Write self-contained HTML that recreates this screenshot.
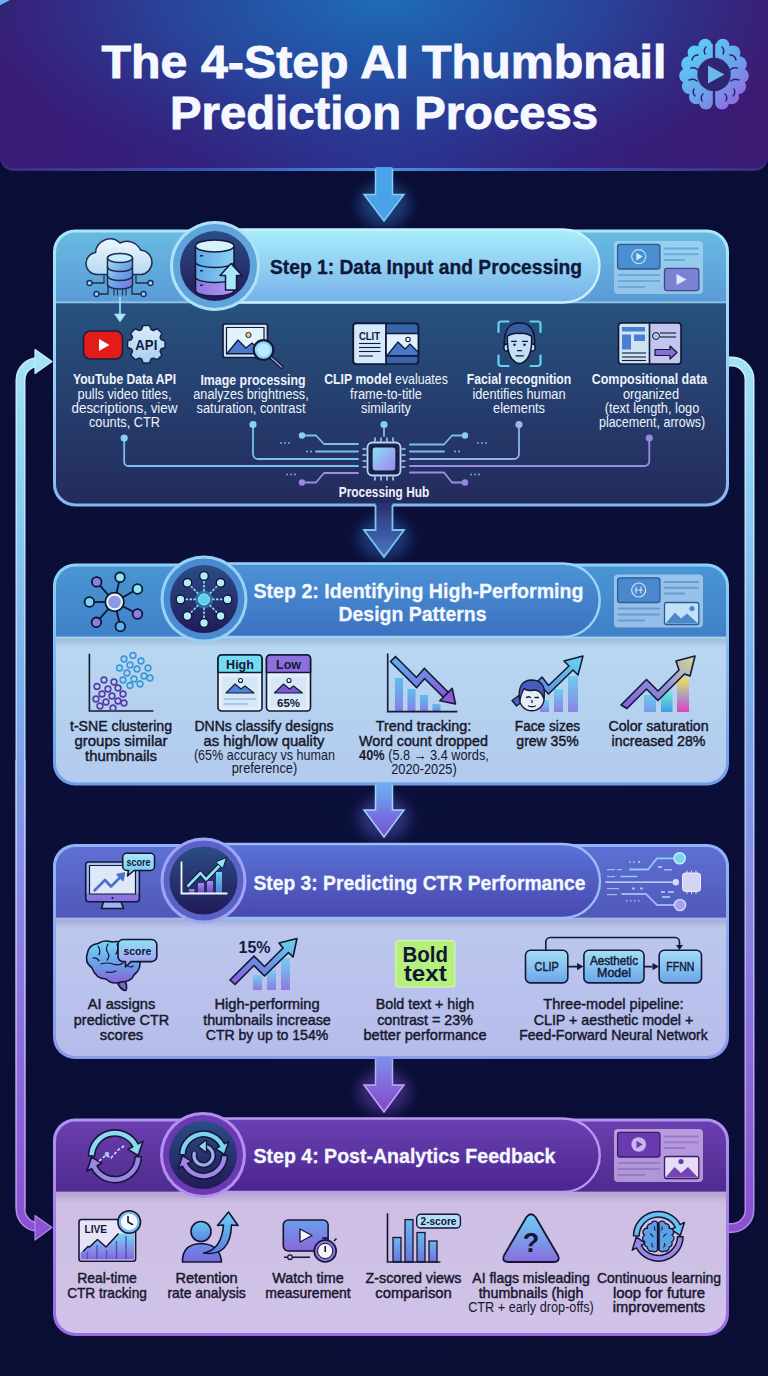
<!DOCTYPE html>
<html><head><meta charset="utf-8">
<style>
html,body{margin:0;padding:0;background:#0b0d2b;width:768px;height:1376px;overflow:hidden}
svg{display:block;position:absolute;left:0;top:0}
text{font-family:"Liberation Sans",sans-serif}
.b{font-weight:bold}
.m{font-weight:normal;stroke-width:0.45px}
.d.m{stroke:#16182c}
.w.m{stroke:#eef3fb}
.w{fill:#eef3fb}
.d{fill:#16182c}
</style></head><body>
<svg width="768" height="1376" viewBox="0 0 768 1376">
<defs>
  <radialGradient id="bgG" cx="384" cy="700" r="700" gradientUnits="userSpaceOnUse">
    <stop offset="0" stop-color="#0b103c"/><stop offset="1" stop-color="#0a0d34"/>
  </radialGradient>
  <linearGradient id="hdrG" x1="0" y1="0" x2="768" y2="0" gradientUnits="userSpaceOnUse">
    <stop offset="0" stop-color="#3a1b76"/><stop offset="0.25" stop-color="#33217e"/><stop offset="0.5" stop-color="#2a3490"/><stop offset="0.75" stop-color="#33217e"/><stop offset="1" stop-color="#3c1a72"/>
  </linearGradient>
  <radialGradient id="hdrR" cx="384" cy="0" r="430" gradientTransform="translate(384 0) scale(1 0.42) translate(-384 0)" gradientUnits="userSpaceOnUse">
    <stop offset="0" stop-color="#1e6cb6" stop-opacity="1"/><stop offset="0.5" stop-color="#2258a8" stop-opacity="0.65"/><stop offset="1" stop-color="#2a3a94" stop-opacity="0"/>
  </radialGradient>
  <linearGradient id="hdrB" x1="0" y1="0" x2="768" y2="0" gradientUnits="userSpaceOnUse">
    <stop offset="0" stop-color="#3a2a80"/><stop offset="0.3" stop-color="#3a5ab8"/><stop offset="0.5" stop-color="#4a90e0"/><stop offset="0.7" stop-color="#3a5ab8"/><stop offset="1" stop-color="#3a2a80"/>
  </linearGradient>
  <linearGradient id="loopL" x1="0" y1="360" x2="0" y2="1230" gradientUnits="userSpaceOnUse">
    <stop offset="0" stop-color="#a4e2f4"/><stop offset="0.13" stop-color="#90d0f4"/><stop offset="0.36" stop-color="#7ab0ec"/><stop offset="0.7" stop-color="#8a7ae0"/><stop offset="1" stop-color="#8a50d0"/>
  </linearGradient>
  <linearGradient id="loopE" x1="0" y1="360" x2="0" y2="1230" gradientUnits="userSpaceOnUse">
    <stop offset="0" stop-color="#c4f0fc"/><stop offset="0.36" stop-color="#b4d8fc"/><stop offset="0.7" stop-color="#c0b4f4"/><stop offset="1" stop-color="#b08ae8"/>
  </linearGradient>
  <linearGradient id="p1h" x1="0" y1="229" x2="0" y2="303" gradientUnits="userSpaceOnUse">
    <stop offset="0" stop-color="#68bce2"/><stop offset="1" stop-color="#5a9ad6"/>
  </linearGradient>
  <linearGradient id="p1pill" x1="0" y1="229" x2="0" y2="303" gradientUnits="userSpaceOnUse">
    <stop offset="0" stop-color="#aaeefa"/><stop offset="1" stop-color="#76b0ea"/>
  </linearGradient>
  <linearGradient id="p1b" x1="0" y1="302" x2="0" y2="505" gradientUnits="userSpaceOnUse">
    <stop offset="0" stop-color="#27527f"/><stop offset="1" stop-color="#242a5c"/>
  </linearGradient>
  <linearGradient id="p2h" x1="0" y1="563" x2="0" y2="637" gradientUnits="userSpaceOnUse">
    <stop offset="0" stop-color="#4a96d4"/><stop offset="1" stop-color="#4080c8"/>
  </linearGradient>
  <linearGradient id="p2pill" x1="0" y1="563" x2="0" y2="637" gradientUnits="userSpaceOnUse">
    <stop offset="0" stop-color="#4c94d6"/><stop offset="1" stop-color="#3c70c0"/>
  </linearGradient>
  <linearGradient id="p2b" x1="0" y1="637" x2="0" y2="784" gradientUnits="userSpaceOnUse">
    <stop offset="0" stop-color="#b8d8f0"/><stop offset="1" stop-color="#b2caee"/>
  </linearGradient>
  <linearGradient id="p3h" x1="0" y1="844" x2="0" y2="918" gradientUnits="userSpaceOnUse">
    <stop offset="0" stop-color="#6070d4"/><stop offset="1" stop-color="#5058b8"/>
  </linearGradient>
  <linearGradient id="p3pill" x1="0" y1="844" x2="0" y2="918" gradientUnits="userSpaceOnUse">
    <stop offset="0" stop-color="#5a72d6"/><stop offset="1" stop-color="#4848b0"/>
  </linearGradient>
  <linearGradient id="p3b" x1="0" y1="918" x2="0" y2="1058" gradientUnits="userSpaceOnUse">
    <stop offset="0" stop-color="#bcc8ee"/><stop offset="1" stop-color="#b6bcea"/>
  </linearGradient>
  <linearGradient id="p4h" x1="0" y1="1118" x2="0" y2="1192" gradientUnits="userSpaceOnUse">
    <stop offset="0" stop-color="#6c40b0"/><stop offset="1" stop-color="#4e2a8e"/>
  </linearGradient>
  <linearGradient id="p4pill" x1="0" y1="1118" x2="0" y2="1192" gradientUnits="userSpaceOnUse">
    <stop offset="0" stop-color="#6c42b2"/><stop offset="1" stop-color="#4a2490"/>
  </linearGradient>
  <linearGradient id="p4b" x1="0" y1="1192" x2="0" y2="1334" gradientUnits="userSpaceOnUse">
    <stop offset="0" stop-color="#cebee4"/><stop offset="1" stop-color="#d0c2e8"/>
  </linearGradient>
  <linearGradient id="circIn" x1="0" y1="0" x2="0" y2="1">
    <stop offset="0" stop-color="#2b4d86"/><stop offset="1" stop-color="#221a58"/>
  </linearGradient>
  <linearGradient id="shd" x1="0" y1="0" x2="0" y2="1"><stop offset="0" stop-color="#1a1450" stop-opacity="0.16"/><stop offset="1" stop-color="#1a1450" stop-opacity="0"/></linearGradient>
  <filter id="glow" x="-50%" y="-50%" width="200%" height="200%"><feGaussianBlur stdDeviation="6"/></filter>
  <filter id="soft" x="-20%" y="-20%" width="140%" height="140%"><feGaussianBlur stdDeviation="1.2"/></filter>
</defs>

<rect width="768" height="1376" fill="url(#bgG)"/>

<!-- HEADER -->
<path d="M0 0 H768 V157 A14 14 0 0 1 754 171 H14 A14 14 0 0 1 0 157 Z" fill="url(#hdrB)"/>
<path d="M0 0 H768 V154 A14 14 0 0 1 754 168 H14 A14 14 0 0 1 0 154 Z" fill="url(#hdrG)"/>
<path d="M0 0 H768 V154 A14 14 0 0 1 754 168 H14 A14 14 0 0 1 0 154 Z" fill="url(#hdrR)"/>
<text class="b" x="384" y="78" text-anchor="middle" font-size="47" fill="#f6f8ff" stroke="#f6f8ff" stroke-width="0.9" textLength="565" lengthAdjust="spacingAndGlyphs">The 4-Step AI Thumbnail</text>
<text class="b" x="384" y="129" text-anchor="middle" font-size="47" fill="#f6f8ff" stroke="#f6f8ff" stroke-width="0.9" textLength="428" lengthAdjust="spacingAndGlyphs">Prediction Process</text>

<!-- LOOPS -->
<g fill="none">
<path d="M20.5 1209 V380 A18 18 0 0 1 38.5 362 H40" stroke="url(#loopE)" stroke-width="10"/>
<path d="M20.5 1209 V380 A18 18 0 0 1 38.5 362 H40" stroke="url(#loopL)" stroke-width="7"/>
<path d="M20.5 760 V1209 A18 18 0 0 0 38.5 1227 H40" stroke="url(#loopE)" stroke-width="10"/>
<path d="M20.5 760 V1209 A18 18 0 0 0 38.5 1227 H40" stroke="url(#loopL)" stroke-width="7"/>
<path d="M729 361.5 H732 A18 18 0 0 1 749.5 379.5 V1210 A18 18 0 0 1 731.5 1228 H729" stroke="url(#loopE)" stroke-width="10"/>
<path d="M729 361.5 H732 A18 18 0 0 1 749.5 379.5 V1210 A18 18 0 0 1 731.5 1228 H729" stroke="url(#loopL)" stroke-width="7"/>
</g>
<path d="M35 349.5 L52 361.5 L35 373.5 Z" fill="#a4e2f4" stroke="#c4f0fc" stroke-width="1.2" stroke-linejoin="round"/>
<path d="M35 1215.5 L52 1227.5 L35 1240 Z" fill="#8a54d4" stroke="#b08ae8" stroke-width="1.2" stroke-linejoin="round"/>

<!-- GLOWS -->
  <ellipse cx="384" cy="205" rx="26" ry="22" fill="#3a8ae0" opacity="0.35" filter="url(#glow)"/>
  <ellipse cx="384" cy="538" rx="26" ry="22" fill="#3a7ad8" opacity="0.35" filter="url(#glow)"/>
  <ellipse cx="384" cy="818" rx="26" ry="22" fill="#6a6ae0" opacity="0.35" filter="url(#glow)"/>
  <ellipse cx="384" cy="1092" rx="26" ry="22" fill="#8a5ae0" opacity="0.35" filter="url(#glow)"/>
<!-- PANEL 1 -->
<linearGradient id="b1" x1="0" y1="229" x2="0" y2="507" gradientUnits="userSpaceOnUse"><stop offset="0" stop-color="#a8e8fa"/><stop offset="1" stop-color="#86b6f0"/></linearGradient><rect x="53" y="229.5" width="676" height="277" rx="22" fill="url(#b1)"/>
<clipPath id="c1"><rect x="56" y="232.5" width="670" height="271" rx="19.5"/></clipPath>
<g clip-path="url(#c1)">
  <rect x="53" y="229" width="676" height="74" fill="url(#p1h)"/>
  <rect x="53" y="302" width="676" height="205" fill="url(#p1b)"/>
  <rect x="53" y="301.5" width="676" height="1.8" fill="#a8dcf6" opacity="0.8"/>
</g>
<path d="M215 229.5 H563 A36.5 36.5 0 0 1 563 302.5 H215 Z" fill="url(#p1pill)" stroke="#c8f2fe" stroke-width="2.4"/>
<circle cx="215" cy="266" r="45" fill="#aee2f6"/>
<circle cx="215" cy="266" r="42" fill="#5fa4da"/>
<circle cx="215" cy="266" r="35" fill="url(#circIn)"/>
<text class="b" x="270" y="273.5" font-size="20.5" fill="#0f1838" stroke="#0f1838" stroke-width="0.35" textLength="312" lengthAdjust="spacingAndGlyphs">Step 1: Data Input and Processing</text>

<!-- PANEL 2 -->
<linearGradient id="b2" x1="0" y1="563" x2="0" y2="786" gradientUnits="userSpaceOnUse"><stop offset="0" stop-color="#8ed2f8"/><stop offset="1" stop-color="#6e9eea"/></linearGradient><rect x="53" y="563.5" width="676" height="222" rx="22" fill="url(#b2)"/>
<clipPath id="c2"><rect x="56" y="566.5" width="670" height="216" rx="19.5"/></clipPath>
<g clip-path="url(#c2)">
  <rect x="53" y="563" width="676" height="75" fill="url(#p2h)"/>
  <rect x="53" y="637" width="676" height="150" fill="url(#p2b)"/>
  <rect x="53" y="638.3" width="676" height="9" fill="url(#shd)"/>
  <rect x="53" y="636.5" width="676" height="1.8" fill="#a0d4f8" opacity="0.8"/>
</g>
<path d="M204 563.5 H563 A36.75 36.75 0 0 1 563 637 H204 Z" fill="url(#p2pill)" stroke="#9ad4fa" stroke-width="2.4"/>
<circle cx="204" cy="599" r="43.5" fill="#96d2f4"/>
<circle cx="204" cy="599" r="40.5" fill="#4a8ad2"/>
<circle cx="204" cy="599" r="34" fill="url(#circIn)"/>
<text class="b" x="418.5" y="598" text-anchor="middle" font-size="21" fill="#f4f8ff" stroke="#f4f8ff" stroke-width="0.3" textLength="330" lengthAdjust="spacingAndGlyphs">Step 2: Identifying High-Performing</text>
<text class="b" x="412.5" y="620.5" text-anchor="middle" font-size="21" fill="#f4f8ff" stroke="#f4f8ff" stroke-width="0.3" textLength="148" lengthAdjust="spacingAndGlyphs">Design Patterns</text>

<!-- PANEL 3 -->
<linearGradient id="b3" x1="0" y1="844" x2="0" y2="1059" gradientUnits="userSpaceOnUse"><stop offset="0" stop-color="#90b4f8"/><stop offset="1" stop-color="#8a9aec"/></linearGradient><rect x="53" y="844" width="676" height="215" rx="22" fill="url(#b3)"/>
<clipPath id="c3"><rect x="56" y="847" width="670" height="209" rx="19.5"/></clipPath>
<g clip-path="url(#c3)">
  <rect x="53" y="844" width="676" height="75" fill="url(#p3h)"/>
  <rect x="53" y="918" width="676" height="142" fill="url(#p3b)"/>
  <rect x="53" y="919.3" width="676" height="9" fill="url(#shd)"/>
  <rect x="53" y="917.5" width="676" height="1.8" fill="#9ab4f4" opacity="0.8"/>
</g>
<path d="M204 844 H563 A37 37 0 0 1 563 918 H204 Z" fill="url(#p3pill)" stroke="#98bcf8" stroke-width="2.4"/>
<circle cx="203.5" cy="880.5" r="43" fill="#9ea6f2"/>
<circle cx="203.5" cy="880.5" r="40" fill="#5a62c8"/>
<circle cx="203.5" cy="880.5" r="34" fill="url(#circIn)"/>
<text class="b" x="253.5" y="889.5" font-size="21" fill="#f4f8ff" stroke="#f4f8ff" stroke-width="0.3" textLength="332" lengthAdjust="spacingAndGlyphs">Step 3: Predicting CTR Performance</text>

<!-- PANEL 4 -->
<linearGradient id="b4" x1="0" y1="1118" x2="0" y2="1336" gradientUnits="userSpaceOnUse"><stop offset="0" stop-color="#b094f2"/><stop offset="1" stop-color="#9a6ae0"/></linearGradient><rect x="53" y="1118.5" width="676" height="217.5" rx="22" fill="url(#b4)"/>
<clipPath id="c4"><rect x="56" y="1121.5" width="670" height="211.5" rx="19.5"/></clipPath>
<g clip-path="url(#c4)">
  <rect x="53" y="1118" width="676" height="75" fill="url(#p4h)"/>
  <rect x="53" y="1192" width="676" height="145" fill="url(#p4b)"/>
  <rect x="53" y="1193.3" width="676" height="9" fill="url(#shd)"/>
  <rect x="53" y="1191.5" width="676" height="1.8" fill="#b49cee" opacity="0.8"/>
</g>
<path d="M204 1118.5 H563 A36.75 36.75 0 0 1 563 1192 H204 Z" fill="url(#p4pill)" stroke="#b898f0" stroke-width="2.4"/>
<circle cx="203" cy="1155" r="43" fill="#b48ef0"/>
<circle cx="203" cy="1155" r="40" fill="#6a3ab2"/>
<circle cx="203" cy="1155" r="34" fill="url(#circIn)"/>
<text class="b" x="253.5" y="1163" font-size="21" fill="#f4f8ff" stroke="#f4f8ff" stroke-width="0.3" textLength="302" lengthAdjust="spacingAndGlyphs">Step 4: Post-Analytics Feedback</text>
<!-- ARROWS -->
<g>
  <path d="M375.5 167 V194.5 H364 L384 221 L404 194.5 H392.5 V167 Z" fill="#4aa2e8"/><path d="M375.5 169 V194.5 H364 L384 221 L404 194.5 H392.5 V169" fill="none" stroke="#86cdf6" stroke-width="1.5"/>
</g>
<g>
  <linearGradient id="a2" x1="0" y1="505" x2="0" y2="557" gradientUnits="userSpaceOnUse"><stop offset="0" stop-color="#2a3272"/><stop offset="1" stop-color="#4a78c6"/></linearGradient>
  <path d="M375.5 503 V530 H364 L384 557 L404 530 H392.5 V503 Z" fill="url(#a2)"/><path d="M375.5 505 V530 H364 L384 557 L404 530 H392.5 V505" fill="none" stroke="#7cc2f2" stroke-width="1.8"/>
</g>
<g>
  <linearGradient id="a3" x1="0" y1="784" x2="0" y2="837" gradientUnits="userSpaceOnUse"><stop offset="0" stop-color="#6cb0f2"/><stop offset="1" stop-color="#7a4cd6"/></linearGradient>
  <path d="M375.5 782.5 V810 H364 L384 837 L404 810 H392.5 V782.5 Z" fill="url(#a3)"/><path d="M375.5 785 V810 H364 L384 837 L404 810 H392.5 V785" fill="none" stroke="#a2d2f8" stroke-width="1.5"/>
</g>
<g>
  <linearGradient id="a4" x1="0" y1="1058" x2="0" y2="1112" gradientUnits="userSpaceOnUse"><stop offset="0" stop-color="#7a90e8"/><stop offset="1" stop-color="#8a44cc"/></linearGradient>
  <path d="M375.5 1057 V1085 H364 L384 1112 L404 1085 H392.5 V1057 Z" fill="url(#a4)"/><path d="M375.5 1059 V1085 H364 L384 1112 L404 1085 H392.5 V1059" fill="none" stroke="#c6a6f4" stroke-width="1.5"/>
</g>



<!-- ICONS -->
<g transform="translate(614 241)">
<rect x="0" y="0" width="89" height="53" rx="4" fill="#d4f0ff" opacity="0.45"/>
<rect x="3.6" y="3.3" width="42.3" height="24.7" rx="2.5" fill="#4a8fd0" stroke="#2a5a92" stroke-width="1.3"/>
<circle cx="24.7" cy="15.6" r="7" fill="none" stroke="#b8e2fa" stroke-width="1.2"/><path d="M22.3 11.8 L28.8 15.6 L22.3 19.4 Z" fill="#c8ecff"/>
<line x1="50.5" y1="7.5" x2="83.8" y2="7.5" stroke="#6aaad8" stroke-width="2" stroke-linecap="round"/>
<line x1="50.5" y1="13.3" x2="83.8" y2="13.3" stroke="#6aaad8" stroke-width="2" stroke-linecap="round"/>
<line x1="50.5" y1="19" x2="70" y2="19" stroke="#6aaad8" stroke-width="2" stroke-linecap="round"/>
<line x1="4.5" y1="34" x2="45" y2="34" stroke="#6aaad8" stroke-width="2" stroke-linecap="round"/>
<line x1="4.5" y1="40" x2="45" y2="40" stroke="#6aaad8" stroke-width="2" stroke-linecap="round"/>
<line x1="4.5" y1="46" x2="30" y2="46" stroke="#6aaad8" stroke-width="2" stroke-linecap="round"/>
<rect x="50.5" y="27.4" width="34.3" height="22.2" rx="2.5" fill="#7a82d2" stroke="#3a4a90" stroke-width="1.3"/><path d="M62.5 33 L72.5 38.5 L62.5 44 Z" fill="#dce8ff"/>
</g>
<g transform="translate(614 574.5)">
<rect x="0" y="0" width="89" height="53" rx="4" fill="#d8ecff" opacity="0.55"/>
<rect x="3.6" y="3.3" width="42.3" height="24.7" rx="2.5" fill="#4a88cc" stroke="#2a5a9a" stroke-width="1.3"/>
<circle cx="24.7" cy="15.5" r="7" fill="none" stroke="#cfe6fa" stroke-width="1.2"/><path d="M22 12 v7 M27 12 v7 M20.5 15.5 h8" stroke="#cfe6fa" stroke-width="1" />
<line x1="50.5" y1="7.5" x2="83.8" y2="7.5" stroke="#6a9ad0" stroke-width="2" stroke-linecap="round"/>
<line x1="50.5" y1="13.3" x2="83.8" y2="13.3" stroke="#6a9ad0" stroke-width="2" stroke-linecap="round"/>
<line x1="50.5" y1="19" x2="70" y2="19" stroke="#6a9ad0" stroke-width="2" stroke-linecap="round"/>
<line x1="4.5" y1="34" x2="45" y2="34" stroke="#6a9ad0" stroke-width="2" stroke-linecap="round"/>
<line x1="4.5" y1="40" x2="45" y2="40" stroke="#6a9ad0" stroke-width="2" stroke-linecap="round"/>
<line x1="4.5" y1="46" x2="30" y2="46" stroke="#6a9ad0" stroke-width="2" stroke-linecap="round"/>
<rect x="50.5" y="28" width="34.3" height="22" rx="2" fill="#c4e0f6" stroke="#2a5a9a" stroke-width="1.3"/><path d="M51.5 49 L61 38 L67 44 L73 39 L84 49 Z" fill="#4a88cc"/><circle cx="78" cy="34" r="2.6" fill="#4a88cc"/>
</g>
<g transform="translate(614 1129)">
<rect x="0" y="0" width="89" height="53" rx="4" fill="#ecdcff" opacity="0.6"/>
<rect x="3.6" y="3.3" width="42.3" height="24.7" rx="2.5" fill="#6a3ab0" stroke="#3a1a6a" stroke-width="1.3"/>
<circle cx="24.7" cy="15.5" r="7.3" fill="#cdb4ee"/><path d="M22.5 11.8 L28.8 15.5 L22.5 19.2 Z" fill="#6a3ab0"/>
<line x1="50.5" y1="7.5" x2="83.8" y2="7.5" stroke="#9a78cc" stroke-width="2" stroke-linecap="round"/>
<line x1="50.5" y1="13.3" x2="83.8" y2="13.3" stroke="#9a78cc" stroke-width="2" stroke-linecap="round"/>
<line x1="50.5" y1="19" x2="70" y2="19" stroke="#9a78cc" stroke-width="2" stroke-linecap="round"/>
<line x1="4.5" y1="34" x2="45" y2="34" stroke="#9a78cc" stroke-width="2" stroke-linecap="round"/>
<line x1="4.5" y1="40" x2="45" y2="40" stroke="#9a78cc" stroke-width="2" stroke-linecap="round"/>
<line x1="4.5" y1="46" x2="30" y2="46" stroke="#9a78cc" stroke-width="2" stroke-linecap="round"/>
<rect x="50.5" y="27.5" width="34.3" height="22" rx="2" fill="#e6dcf6" stroke="#3a1a6a" stroke-width="1.3"/><path d="M51.5 48.5 L60.5 38 L67 44 L74 38 L84 48.5 Z" fill="#7444b8"/><circle cx="67" cy="32.5" r="2.6" fill="#6a3ab0"/>
</g>
<linearGradient id="brainG" x1="684" y1="44" x2="744" y2="106" gradientUnits="userSpaceOnUse"><stop offset="0" stop-color="#58d4f4"/><stop offset="0.55" stop-color="#6aa4ec"/><stop offset="1" stop-color="#9a60e0"/></linearGradient>
<g fill="url(#brainG)"><circle cx="705.2" cy="45.5" r="6.8"/><circle cx="722.8" cy="45.5" r="6.8"/><circle cx="695" cy="52.8" r="7.4"/><circle cx="733" cy="52.8" r="7.4"/><circle cx="689" cy="64" r="7.8"/><circle cx="739" cy="64" r="7.8"/><circle cx="686.6" cy="75.7" r="7.4"/><circle cx="741.4" cy="75.7" r="7.4"/><circle cx="689.3" cy="86.5" r="7.4"/><circle cx="738.7" cy="86.5" r="7.4"/><circle cx="696.4" cy="96.8" r="7.4"/><circle cx="731.6" cy="96.8" r="7.4"/><circle cx="706" cy="102.6" r="7"/><circle cx="722" cy="102.6" r="7"/><path d="M705 44 L695 52 L688 64 L686 76 L689 87 L696 97 L706 103 L722 103 L732 97 L739 87 L742 76 L740 64 L733 52 L723 44 Z"/></g>
<g fill="none" stroke="#2c2476" stroke-width="1.5" stroke-linecap="round"><g transform="translate(714 0) scale(1 1) translate(-714 0)"><path d="M706 47 q-3 3 -1 7 M698 55 q-5 0 -6 5 M691 68 q4 -1 7 2 M689 80 q5 -2 8 1 M694 89 q-2 4 1 7 M703 94 q-3 3 -1 7"/></g><g transform="translate(714 0) scale(-1 1) translate(-714 0)"><path d="M706 47 q-3 3 -1 7 M698 55 q-5 0 -6 5 M691 68 q4 -1 7 2 M689 80 q5 -2 8 1 M694 89 q-2 4 1 7 M703 94 q-3 3 -1 7"/></g></g>
<line x1="714" y1="38" x2="714" y2="110" stroke="#302472" stroke-width="2.4"/>
<circle cx="714" cy="74.5" r="16.7" fill="#2f2570"/><path d="M708 65.5 L724.5 74.5 L708 83.5 Z" fill="#6ab8f0"/>
<circle cx="0" cy="0" r="16.5" fill="#2f2570"/><path d="M-6 -8.5 L10 0 L-6 8.5 Z" fill="#6ab4ee"/>
<line x1="0" y1="-35" x2="0" y2="-16" stroke="#2f2570" stroke-width="2.2"/><line x1="0" y1="16" x2="0" y2="36" stroke="#2f2570" stroke-width="2.2"/>
</g>
<linearGradient id="cloudG" x1="0" y1="0" x2="0" y2="1"><stop offset="0" stop-color="#eef8ff"/><stop offset="1" stop-color="#b4d8f2"/></linearGradient>
<linearGradient id="dbG" x1="0" y1="0" x2="1" y2="1"><stop offset="0" stop-color="#a8dcf6"/><stop offset="0.6" stop-color="#6a9ee6"/><stop offset="1" stop-color="#7a6ede"/></linearGradient>
<g stroke="#1c2c52" stroke-width="1.5" stroke-linejoin="round" stroke-linecap="round">
<path d="M97 274.5 A11 11 0 0 1 95.5 252.6 A14.5 14.5 0 0 1 120 243 A15 15 0 0 1 140.5 250 A12.3 12.3 0 0 1 141 274.5 Z" fill="url(#cloudG)"/>
<g fill="none" stroke-width="1.3">
<path d="M104 276 V283 H92"/><circle cx="89.5" cy="283" r="2.5" fill="#9fd0ef"/>
<path d="M108 285 V294 H99"/><circle cx="96.5" cy="294" r="2.5" fill="#9fd0ef"/>
<path d="M136 276 V283 H148"/><circle cx="150.5" cy="283" r="2.5" fill="#9fd0ef"/>
<path d="M132 285 V294 H141"/><circle cx="143.5" cy="294" r="2.5" fill="#9fd0ef"/>
<path d="M114 289 v6 M117.5 290 v5 M122.5 290 v5 M126 289 v6" stroke-width="1.1"/>
</g>
<path d="M107.5 258 V284.5 A12.5 4.5 0 0 0 132.5 284.5 V258 Z" fill="url(#dbG)"/>
<ellipse cx="120" cy="258" rx="12.5" ry="4.5" fill="#c8ecfa"/>
<path d="M107.5 267 A12.5 4.5 0 0 0 132.5 267 M107.5 276 A12.5 4.5 0 0 0 132.5 276" fill="none"/>
</g>
<g stroke="#a8e6fa" stroke-width="1.6" fill="#a8e6fa"><line x1="120" y1="297" x2="120" y2="316"/><path d="M114.5 314 L125.5 314 L120 322 Z" stroke-width="0.5"/></g>
<linearGradient id="db2A" x1="0" y1="0" x2="1" y2="0"><stop offset="0" stop-color="#5ea8e4"/><stop offset="1" stop-color="#8ed0f4"/></linearGradient>
<linearGradient id="db2C" x1="0" y1="0" x2="1" y2="0"><stop offset="0" stop-color="#8a78e0"/><stop offset="1" stop-color="#b098f0"/></linearGradient>
<g stroke="#121a3a" stroke-width="1.5" stroke-linejoin="round">
<path d="M195.5 277 V290.5 A19.25 5.5 0 0 0 234 290.5 V277 Z" fill="url(#db2C)"/>
<path d="M195.5 262 V277 A19.25 5.5 0 0 0 234 277 V262 Z" fill="url(#db2A)"/>
<path d="M195.5 246 V262 A19.25 5.5 0 0 0 234 262 V246 Z" fill="url(#db2A)"/>
<ellipse cx="214.75" cy="246" rx="19.25" ry="6" fill="#d8f2fc"/>
</g>
<g fill="#1a2450"><rect x="200" y="255" width="3" height="1.5"/><rect x="200" y="270" width="3" height="1.5"/><rect x="200" y="284.5" width="3" height="1.5"/></g>
<path d="M231 263.5 L242 275.5 H236.5 V290 H225.5 V275.5 H220 Z" fill="#a8e8fa" stroke="#121a3a" stroke-width="1.5" stroke-linejoin="round"/>
<g stroke="#1a1e3c" stroke-width="1.6" stroke-linejoin="round">
<rect x="83.5" y="331" width="39" height="28" rx="7" fill="#e21b1b"/>
<path d="M99 339 L109.5 345 L99 351 Z" fill="#fff" stroke="none"/>
</g>
<linearGradient id="gearG" x1="0" y1="0" x2="0" y2="1"><stop offset="0" stop-color="#d8ecfc"/><stop offset="1" stop-color="#a8cef0"/></linearGradient>
<path d="M161.06 339.56 L165.03 341.09 L165.03 347.51 L161.06 349.04 L160.09 351.38 L161.81 355.27 L157.27 359.81 L153.38 358.09 L151.04 359.06 L149.51 363.03 L143.09 363.03 L141.56 359.06 L139.22 358.09 L135.33 359.81 L130.79 355.27 L132.51 351.38 L131.54 349.04 L127.57 347.51 L127.57 341.09 L131.54 339.56 L132.51 337.22 L130.79 333.33 L135.33 328.79 L139.22 330.51 L141.56 329.54 L143.09 325.57 L149.51 325.57 L151.04 329.54 L153.38 330.51 L157.27 328.79 L161.81 333.33 L160.09 337.22 Z" fill="url(#gearG)" stroke="#1a2244" stroke-width="1.5" stroke-linejoin="round"/>
<text x="146.3" y="349.5" text-anchor="middle" font-size="14" font-weight="bold" fill="#141c3c" textLength="22" lengthAdjust="spacingAndGlyphs">API</text>
<g stroke="#141a3a" stroke-width="1.7" stroke-linejoin="round">
<rect x="223" y="324" width="44.5" height="33.5" rx="2" fill="#cfe6f8"/>
<rect x="226.5" y="327.5" width="37.5" height="26.5" fill="#e4f2fc" stroke-width="1.2"/>
<path d="M227 353.5 L238 340 L246 348 L252 343 L263.5 353.5 Z" fill="#4a7acc" stroke-width="1.2"/>
<circle cx="248.5" cy="335" r="2.6" fill="#f2d45a" stroke-width="1"/>
<line x1="270" y1="356.5" x2="281.5" y2="367" stroke-width="4" stroke-linecap="round"/>
<line x1="270" y1="356.5" x2="281.5" y2="367" stroke="#8aa0d8" stroke-width="1.6" stroke-linecap="round"/>
<circle cx="263.5" cy="350" r="9.8" fill="#8ed4f4" stroke-width="2.2"/>
<circle cx="263.5" cy="350" r="6.5" fill="#b8ecfc" stroke="none"/>
</g>
<g stroke="#101838" stroke-width="1.7" stroke-linejoin="round">
<rect x="353.3" y="323.3" width="65" height="40.7" rx="3" fill="#3a64a8"/>
<path d="M356.3 323.3 H386 V364 H356.3 A3 3 0 0 1 353.3 361 V326.3 A3 3 0 0 1 356.3 323.3 Z" fill="#d4eafa"/>
<rect x="386" y="333.5" width="32.4" height="22.5" fill="#e0f0fc"/>
<path d="M387 355.5 L398 342 L405 349 L410 344 L418 352 V355.5 Z" fill="#4a78c8" stroke-width="1.2"/>
<circle cx="408" cy="339.5" r="2.2" fill="#fff" stroke-width="1.1"/>
</g>
<text x="369.5" y="339.5" text-anchor="middle" font-size="10" font-weight="bold" fill="#101838" textLength="21" lengthAdjust="spacingAndGlyphs">CLIT</text>
<g stroke="#101838" stroke-width="1.1"><line x1="359" y1="343.5" x2="380.5" y2="343.5"/><line x1="359" y1="347.5" x2="380.5" y2="347.5"/><line x1="359" y1="351.5" x2="380.5" y2="351.5"/><line x1="359" y1="356" x2="373" y2="356"/></g>
<g fill="none" stroke="#62d4f2" stroke-width="2.2" stroke-linecap="round" stroke-linejoin="round">
<path d="M498.5 332 V324 A2.5 2.5 0 0 1 501 321.5 H508.5 M530.5 321.5 H538 A2.5 2.5 0 0 1 540.5 324 V332 M540.5 355.5 V363.5 A2.5 2.5 0 0 1 538 366 H530.5 M508.5 366 H501 A2.5 2.5 0 0 1 498.5 363.5 V355.5"/>
</g>
<g stroke="#0e1530" stroke-width="1.5" stroke-linejoin="round">
<path d="M504.5 348 Q502.5 323 519.5 322.8 Q536.5 323 534.5 348 Z" fill="#3a5a9c"/>
<ellipse cx="506.5" cy="347.5" rx="2.6" ry="3.6" fill="#c4e0f6"/>
<ellipse cx="532.5" cy="347.5" rx="2.6" ry="3.6" fill="#c4e0f6"/>
<path d="M507.5 336 Q513 332.5 519.5 333.5 Q526 332.5 531.5 336 Q532.5 352 527 359 Q523 363.5 519.5 363.5 Q516 363.5 512 359 Q506.5 352 507.5 336 Z" fill="#c4e0f6"/>
</g>
<g stroke="#0e1530" stroke-width="1.2" fill="none" stroke-linecap="round"><path d="M511.5 341.3 h5 M522.5 341.3 h5 M517.5 350.7 h4 M516 355.8 h7.5"/></g>
<g fill="#0e1530"><circle cx="514.5" cy="344.8" r="1.2"/><circle cx="524.5" cy="344.8" r="1.2"/></g>
<g stroke="#101838" stroke-width="1.6" stroke-linejoin="round">
<rect x="618.5" y="323" width="62.5" height="41" rx="3" fill="#cfe2f6"/>
<path d="M649.5 323 H678 A3 3 0 0 1 681 326 V361 A3 3 0 0 1 678 364 H649.5 Z" fill="#c4c6ee"/>
</g>
<g fill="#4a7ed2"><rect x="622" y="327" width="23" height="4.5"/><rect x="622" y="334.5" width="9" height="15"/><rect x="634" y="334.5" width="11" height="6.5"/></g>
<g stroke="#101838" stroke-width="1.1"><line x1="622" y1="353" x2="646" y2="353"/><line x1="622" y1="357" x2="646" y2="357"/><line x1="622" y1="360.5" x2="646" y2="360.5"/><line x1="660" y1="333" x2="676" y2="333"/><line x1="660" y1="337" x2="676" y2="337"/></g>
<circle cx="656" cy="336" r="3.5" fill="#a8c4ee" stroke="#101838" stroke-width="1"/>
<path d="M655 349.5 H670 V346 L677 352.5 L670 359 V355.5 H655 Z" fill="#8a6ed8" stroke="#101838" stroke-width="1.2" stroke-linejoin="round"/>
<g fill="none" stroke-width="1.8" stroke-linecap="round" stroke-linejoin="round">
<path d="M124.2 438 V462 A4 4 0 0 0 128.2 466 H358" stroke="#76c2ee"/>
<path d="M253 424.5 V454 A5 5 0 0 0 258 459 H358" stroke="#76c2ee"/>
<path d="M384 424.5 V436" stroke="#76c2ee"/>
<path d="M302 435.5 H316 L324 444 H358" stroke="#76c2ee"/>
<path d="M316 451.5 H358" stroke="#76c2ee"/>
<path d="M302 482.5 H316 L324 473 H358" stroke="#9a90e2"/>
<path d="M519 424.5 V454 A5 5 0 0 1 514 459 H410" stroke="#8ab6ee"/>
<path d="M649.3 438 V461 A5 5 0 0 1 644.3 466 H410" stroke="#9a90e2"/>
<path d="M465 435.5 H452 L444 444.5 H410" stroke="#76c2ee"/>
<path d="M444 451.5 H410" stroke="#76c2ee"/>
<path d="M465 482.5 H452 L444 472.5 H410" stroke="#9a90e2"/>
</g>
<g fill="#86d0f4"><circle cx="124.2" cy="438" r="3.6"/><circle cx="253" cy="424.5" r="3.6"/><circle cx="384" cy="424.5" r="3.6"/><circle cx="302" cy="435.5" r="3.2"/><circle cx="465" cy="435.5" r="3.2"/><circle cx="519" cy="424.5" r="3.6" fill="#a0b4f0"/></g>
<g fill="#9a86e0"><circle cx="302" cy="482.5" r="3.2"/><circle cx="465" cy="482.5" r="3.2"/><circle cx="649.3" cy="438" r="3.6"/></g>
<g fill="#7ab8e8"><circle cx="281" cy="443" r="0.9"/><circle cx="285" cy="443" r="0.9"/><circle cx="289" cy="443" r="0.9"/><circle cx="307" cy="451.5" r="1"/><circle cx="311" cy="451.5" r="1"/>
<circle cx="287" cy="474.5" r="0.9"/><circle cx="291" cy="474.5" r="0.9"/><circle cx="295" cy="474.5" r="0.9"/>
<circle cx="478" cy="443" r="0.9"/><circle cx="482" cy="443" r="0.9"/><circle cx="486" cy="443" r="0.9"/><circle cx="455" cy="451.5" r="1"/><circle cx="459" cy="451.5" r="1"/>
<circle cx="471" cy="474.5" r="0.9"/><circle cx="475" cy="474.5" r="0.9"/><circle cx="479" cy="474.5" r="0.9"/></g>
<linearGradient id="chipG" x1="0" y1="0" x2="1" y2="1"><stop offset="0" stop-color="#8ee0f8"/><stop offset="1" stop-color="#9a86e8"/></linearGradient>
<g stroke="#a8c8f4" stroke-width="1.6">
<path d="M375 437.5 v4 M381 437.5 v4 M387 437.5 v4 M393 437.5 v4 M375 476.5 v4 M381 476.5 v4 M387 476.5 v4 M393 476.5 v4 M362.5 449 h4 M362.5 455 h4 M362.5 461 h4 M362.5 467 h4 M401.5 449 h4 M401.5 455 h4 M401.5 461 h4 M401.5 467 h4"/>
</g>
<rect x="367.5" y="442.5" width="33" height="33" rx="5" fill="#1a2250" stroke="#b4d4f8" stroke-width="1.8"/>
<rect x="372" y="447" width="24" height="24" rx="3" fill="url(#chipG)" stroke="#10183a" stroke-width="1.2"/>
<g stroke="#0e1634" stroke-width="1.8"><line x1="114.6" y1="602" x2="120" y2="577.3"/><line x1="114.6" y1="602" x2="96.7" y2="581.9"/><line x1="114.6" y1="602" x2="137.5" y2="589"/><line x1="114.6" y1="602" x2="89.4" y2="602"/><line x1="114.6" y1="602" x2="137.5" y2="614"/><line x1="114.6" y1="602" x2="96.4" y2="622.3"/><line x1="114.6" y1="602" x2="120.3" y2="626.5"/><circle cx="120" cy="577.3" r="4.8" fill="#8ee4f4"/><circle cx="96.7" cy="581.9" r="4.8" fill="#8a7ee0"/><circle cx="137.5" cy="589" r="4.8" fill="#8ee4f4"/><circle cx="89.4" cy="602" r="4.8" fill="#7ed0f0"/><circle cx="137.5" cy="614" r="4.8" fill="#8a7ee0"/><circle cx="96.4" cy="622.3" r="4.8" fill="#8a7ee0"/><circle cx="120.3" cy="626.5" r="4.8" fill="#5ab4ec"/><circle cx="114.6" cy="602" r="9.3" fill="#e8f4fc"/><circle cx="114.6" cy="602" r="6.3" fill="#8a9ae0" stroke="none"/></g>
<g stroke="#0e1634" stroke-width="1.3"><line x1="204.0" y1="591.4" x2="204.0" y2="575.9" stroke="#9ee0f6" stroke-width="1.6" stroke-dasharray="2.5 1.5"/><line x1="209.7" y1="593.7" x2="220.6" y2="582.8" stroke="#9ee0f6" stroke-width="1.6" stroke-dasharray="2.5 1.5"/><line x1="212.0" y1="599.4" x2="227.5" y2="599.4" stroke="#9ee0f6" stroke-width="1.6" stroke-dasharray="2.5 1.5"/><line x1="209.7" y1="605.1" x2="220.6" y2="616.0" stroke="#9ee0f6" stroke-width="1.6" stroke-dasharray="2.5 1.5"/><line x1="204.0" y1="607.4" x2="204.0" y2="622.9" stroke="#9ee0f6" stroke-width="1.6" stroke-dasharray="2.5 1.5"/><line x1="198.3" y1="605.1" x2="187.4" y2="616.0" stroke="#9ee0f6" stroke-width="1.6" stroke-dasharray="2.5 1.5"/><line x1="196.0" y1="599.4" x2="180.5" y2="599.4" stroke="#9ee0f6" stroke-width="1.6" stroke-dasharray="2.5 1.5"/><line x1="198.3" y1="593.7" x2="187.4" y2="582.8" stroke="#9ee0f6" stroke-width="1.6" stroke-dasharray="2.5 1.5"/><circle cx="204.0" cy="575.9" r="4.3" fill="#b4ecfa"/><circle cx="220.6" cy="582.8" r="4.3" fill="#b4ecfa"/><circle cx="227.5" cy="599.4" r="4.3" fill="#b4ecfa"/><circle cx="220.6" cy="616.0" r="4.3" fill="#b4ecfa"/><circle cx="204.0" cy="622.9" r="4.3" fill="#b4ecfa"/><circle cx="187.4" cy="616.0" r="4.3" fill="#b4ecfa"/><circle cx="180.5" cy="599.4" r="4.3" fill="#b4ecfa"/><circle cx="187.4" cy="582.8" r="4.3" fill="#b4ecfa"/></g>
<circle cx="204" cy="599.4" r="9" fill="#3ab8e0" opacity="0.45"/><circle cx="204" cy="599.4" r="5.5" fill="#5ad0f0" stroke="#a8ecfc" stroke-width="1"/>
<path d="M89.4 653.8 V711 H153.4" fill="none" stroke="#141a36" stroke-width="1.6"/>
<g fill="none" stroke-width="1.4"><circle cx="133" cy="655.5" r="2.9" stroke="#3a98d8" stroke-width="1.6"/><circle cx="124" cy="659" r="2.9" stroke="#3a98d8" stroke-width="1.6"/><circle cx="141" cy="661" r="2.9" stroke="#3a98d8" stroke-width="1.6"/><circle cx="130" cy="665" r="2.9" stroke="#3a98d8" stroke-width="1.6"/><circle cx="119.5" cy="668" r="2.9" stroke="#3a98d8" stroke-width="1.6"/><circle cx="137" cy="669" r="2.9" stroke="#3a98d8" stroke-width="1.6"/><circle cx="148" cy="668" r="2.9" stroke="#3a98d8" stroke-width="1.6"/><circle cx="127" cy="673" r="2.9" stroke="#3a98d8" stroke-width="1.6"/><circle cx="144" cy="676" r="2.9" stroke="#3a98d8" stroke-width="1.6"/><circle cx="123" cy="680" r="2.9" stroke="#3a98d8" stroke-width="1.6"/><circle cx="134" cy="679" r="2.9" stroke="#3a98d8" stroke-width="1.6"/><circle cx="140" cy="684" r="2.9" stroke="#3a98d8" stroke-width="1.6"/><circle cx="130" cy="685.5" r="2.9" stroke="#3a98d8" stroke-width="1.6"/><circle cx="150" cy="678" r="2.9" stroke="#3a98d8" stroke-width="1.6"/><circle cx="104" cy="680" r="2.9" stroke="#5a3aa8" stroke-width="1.6"/><circle cx="114" cy="682" r="2.9" stroke="#5a3aa8" stroke-width="1.6"/><circle cx="97" cy="686.5" r="2.9" stroke="#5a3aa8" stroke-width="1.6"/><circle cx="108" cy="689" r="2.9" stroke="#5a3aa8" stroke-width="1.6"/><circle cx="118" cy="688" r="2.9" stroke="#5a3aa8" stroke-width="1.6"/><circle cx="123" cy="694" r="2.9" stroke="#5a3aa8" stroke-width="1.6"/><circle cx="102" cy="694" r="2.9" stroke="#5a3aa8" stroke-width="1.6"/><circle cx="112" cy="696" r="2.9" stroke="#5a3aa8" stroke-width="1.6"/><circle cx="96" cy="699" r="2.9" stroke="#5a3aa8" stroke-width="1.6"/><circle cx="118" cy="701" r="2.9" stroke="#5a3aa8" stroke-width="1.6"/><circle cx="106" cy="702" r="2.9" stroke="#5a3aa8" stroke-width="1.6"/><circle cx="113" cy="708" r="2.9" stroke="#5a3aa8" stroke-width="1.6"/><circle cx="124" cy="703" r="2.9" stroke="#5a3aa8" stroke-width="1.6"/><circle cx="100" cy="706" r="2.9" stroke="#5a3aa8" stroke-width="1.6"/></g>
<g transform="translate(218 655)" stroke="#121834" stroke-linejoin="round"><rect x="0" y="0" width="44" height="56" rx="3.5" fill="#e6f0fa" stroke-width="1.6"/><path d="M3.5 0 H40.5 A3.5 3.5 0 0 1 44 3.5 V17.5 H0 V3.5 A3.5 3.5 0 0 1 3.5 0 Z" fill="#74dcf0" stroke-width="1.6"/><rect x="4" y="21.5" width="36" height="31" fill="#d6e8f8" stroke="none"/><path d="M8 38 L17 29 L23 34 L27 31 L36 38 Z" fill="#4a86d8" stroke-width="1.1"/><circle cx="22.5" cy="25.5" r="2" fill="#fff" stroke-width="1.1"/><line x1="6" y1="44" x2="38" y2="44" stroke="#8ab4e6" stroke-width="1.3"/><line x1="6" y1="49" x2="30" y2="49" stroke="#8ab4e6" stroke-width="1.3"/></g>
<text x="240" y="668.5" text-anchor="middle" font-size="12.5" font-weight="bold" fill="#121834">High</text>
<g transform="translate(266.5 655)" stroke="#121834" stroke-linejoin="round"><rect x="0" y="0" width="44" height="56" rx="3.5" fill="#e6f0fa" stroke-width="1.6"/><path d="M3.5 0 H40.5 A3.5 3.5 0 0 1 44 3.5 V17.5 H0 V3.5 A3.5 3.5 0 0 1 3.5 0 Z" fill="#8e70dc" stroke-width="1.6"/><rect x="4" y="21.5" width="36" height="31" fill="#d6e8f8" stroke="none"/><path d="M8 38 L17 29 L23 34 L27 31 L36 38 Z" fill="#7a5ad0" stroke-width="1.1"/><circle cx="22.5" cy="25.5" r="2" fill="#fff" stroke-width="1.1"/></g>
<text x="288.5" y="668.5" text-anchor="middle" font-size="12.5" font-weight="bold" fill="#121834">Low</text>
<text x="288.5" y="707" text-anchor="middle" font-size="11.5" font-weight="bold" fill="#121834">65%</text>
<linearGradient id="barG" x1="0" y1="0" x2="0" y2="1"><stop offset="0" stop-color="#58c0ee"/><stop offset="1" stop-color="#8a7ee4"/></linearGradient>
<linearGradient id="arrDn" x1="0" y1="0" x2="1" y2="1"><stop offset="0" stop-color="#5ab0ec"/><stop offset="1" stop-color="#8a5ad8"/></linearGradient>
<g fill="url(#barG)"><rect x="395" y="678" width="8" height="33"/><rect x="407.5" y="689" width="8" height="22"/><rect x="420" y="695" width="8" height="16"/><rect x="432.5" y="704" width="8" height="7"/></g>
<path d="M387.7 653.6 V711.6 H457.4" fill="none" stroke="#141a36" stroke-width="1.6"/>
<path d="M395.5 661.5 L416.5 682.5 L424.5 673.5 L446 695" fill="none" stroke="#141a36" stroke-width="8.6" stroke-linejoin="miter" stroke-linecap="square"/>
<path d="M395.5 661.5 L416.5 682.5 L424.5 673.5 L446 695" fill="none" stroke="url(#arrDn)" stroke-width="5.4" stroke-linejoin="miter" stroke-linecap="square"/>
<path d="M455.5 704 L439.8 700.8 L452.2 688.4 Z" fill="#8a5ad8" stroke="#141a36" stroke-width="1.6" stroke-linejoin="round"/>
<linearGradient id="barG2" x1="0" y1="0" x2="0" y2="1"><stop offset="0" stop-color="#62d0f0"/><stop offset="1" stop-color="#8a7ae0"/></linearGradient>
<linearGradient id="arrUp" x1="0" y1="1" x2="1" y2="0"><stop offset="0" stop-color="#5a8ae0"/><stop offset="1" stop-color="#6ad8f0"/></linearGradient>
<g fill="url(#barG2)" opacity="0.9"><rect x="540" y="700" width="9" height="12"/><rect x="554" y="689" width="9" height="23"/><rect x="568" y="676" width="10" height="36"/></g>
<path d="M537 682 L542 677 L548.5 685.5 L569 666 L564 661 L583 656 L578 675 L573 670 L548.5 694 Z" fill="url(#arrUp)" stroke="#141a36" stroke-width="1.5" stroke-linejoin="round"/>
<g stroke="#141a36" stroke-width="1.4" stroke-linejoin="round">
<path d="M525 691 L512 700.5 L516.5 706 L527 698 Z" fill="#4a62c0"/>
<circle cx="531.8" cy="698.5" r="12.3" fill="#e6eefa"/>
<path d="M519.8 701 Q516.5 680 532 680 Q547 680.5 543.8 698.5 Q541 690 534 690 Q527 691.5 524 688.5 Q521 694 519.8 701 Z" fill="#4a5cb8"/>
</g>
<g stroke="#141a36" stroke-width="1.3" fill="none" stroke-linecap="round"><path d="M526.5 697.5 q2 -1.5 4 0 M535 697.5 h3.5 M532 700.5 v2 M528.5 706 q3.5 1.5 7 0"/></g>
<linearGradient id="cs1" x1="0" y1="0" x2="0" y2="1"><stop offset="0" stop-color="#6ac8f0"/><stop offset="1" stop-color="#7a9ae8"/></linearGradient>
<linearGradient id="cs2" x1="0" y1="0" x2="0" y2="1"><stop offset="0" stop-color="#7ae8d8"/><stop offset="1" stop-color="#3aa0e0"/></linearGradient>
<linearGradient id="cs3" x1="0" y1="0" x2="0" y2="1"><stop offset="0" stop-color="#f0e050"/><stop offset="0.5" stop-color="#b0a0c0"/><stop offset="1" stop-color="#e040c0"/></linearGradient>
<linearGradient id="arrCS" x1="0" y1="1" x2="1" y2="0"><stop offset="0" stop-color="#8a5ae0"/><stop offset="0.5" stop-color="#8a90d8"/><stop offset="1" stop-color="#dcdc90"/></linearGradient>
<rect x="644" y="695" width="12" height="17" fill="url(#cs1)"/><rect x="661" y="691" width="11.5" height="21" fill="url(#cs2)"/><rect x="677" y="678" width="12" height="34" fill="url(#cs3)"/>
<path d="M621 705 L646.5 679.5 L658 691 L679 670 L676 661 L695 656 L690 676 L684.5 674 L658 700.5 L646.5 689 L627 708.5 Z" fill="url(#arrCS)" stroke="#141a36" stroke-width="1.6" stroke-linejoin="round"/>
<g stroke="#121634" stroke-width="1.6" stroke-linejoin="round">
<path d="M103.5 901.5 L101.5 908.5 H123.5 L121 901.5 Z" fill="#9ab8f0"/>
<linearGradient id="monG" x1="0" y1="0" x2="0" y2="1"><stop offset="0" stop-color="#a2c6f4"/><stop offset="0.78" stop-color="#98aef0"/><stop offset="0.8" stop-color="#8a78e0"/><stop offset="1" stop-color="#8a6ede"/></linearGradient><rect x="85.7" y="862" width="53.7" height="39.8" rx="3" fill="url(#monG)"/>
<rect x="89.5" y="865.5" width="46" height="28.5" fill="#dde8f8" stroke-width="1.2"/>
</g>
<circle cx="112.5" cy="898" r="1.1" fill="#121634"/>
<path d="M94.5 890.5 L105 880 L111 886.5 L121 876.5" fill="none" stroke="#4a72c8" stroke-width="2.6" stroke-linecap="round" stroke-linejoin="round"/>
<path d="M117 874.5 L124.5 873 L123 880.5 Z" fill="#4a72c8" stroke="#4a72c8" stroke-width="1.5" stroke-linejoin="round"/>
<linearGradient id="bubG" x1="0" y1="0" x2="0" y2="1"><stop offset="0" stop-color="#aee6fa"/><stop offset="1" stop-color="#6ac6f0"/></linearGradient>
<path d="M126.7 853.3 H150.5 A4 4 0 0 1 154.5 857.3 V866.5 A4 4 0 0 1 150.5 870.5 H134 L127.5 876 L128.5 870.5 H126.7 A4 4 0 0 1 122.7 866.5 V857.3 A4 4 0 0 1 126.7 853.3 Z" fill="url(#bubG)" stroke="#121634" stroke-width="1.5" stroke-linejoin="round"/>
<text x="138.6" y="865.5" text-anchor="middle" font-size="10" font-weight="bold" fill="#121634" textLength="24" lengthAdjust="spacingAndGlyphs">score</text>
<linearGradient id="c3bar" x1="0" y1="0" x2="0" y2="1"><stop offset="0" stop-color="#a08ef0"/><stop offset="1" stop-color="#6a50c0"/></linearGradient>
<linearGradient id="c3bar2" x1="0" y1="0" x2="0" y2="1"><stop offset="0" stop-color="#6ad0f4"/><stop offset="1" stop-color="#4a80d0"/></linearGradient>
<g><rect x="189" y="889" width="5.5" height="4" fill="url(#c3bar)"/><rect x="198" y="883" width="6" height="10" fill="url(#c3bar)"/><rect x="207" y="881" width="6" height="12" fill="url(#c3bar)"/><rect x="216" y="872" width="6" height="21" fill="url(#c3bar2)"/></g>
<path d="M181.5 861.5 V893.5 H227.5" fill="none" stroke="#f0f6ff" stroke-width="1.8"/>
<path d="M187.5 886.5 L200.5 873 L206 879.5 L220 865" fill="none" stroke="#0e1430" stroke-width="4.6" stroke-linejoin="round"/>
<path d="M187.5 886.5 L200.5 873 L206 879.5 L220 865" fill="none" stroke="#92e6f2" stroke-width="2.6" stroke-linejoin="round"/>
<path d="M215.5 862 L226.5 857.5 L223 868.5 Z" fill="#92e6f2" stroke="#0e1430" stroke-width="1" stroke-linejoin="round"/>
<g fill="none" stroke-width="1.8" stroke-linecap="round" opacity="0.95">
<path d="M630 869.5 H648 L657 858.3 H674" stroke="#8ad8f4"/>
<path d="M606 882.2 H672" stroke="#b8c8f6"/>
<path d="M622 894 H646 L657 905 H674" stroke="#a8b8f4"/>
<path d="M621 876.5 H637" stroke="#8ad8f4" stroke-width="1.4"/>
</g>
<g fill="#a8d8f4" opacity="0.8"><rect x="629" y="861" width="1.5" height="2"/><rect x="633" y="861" width="1.5" height="2"/><rect x="638" y="861" width="2" height="2"/><rect x="607" y="869" width="8" height="1.2"/><rect x="617" y="869" width="5" height="1.2"/><rect x="607" y="876" width="8" height="1.2"/><rect x="607" y="888" width="12" height="1.2"/><rect x="632" y="887.5" width="3" height="2"/><rect x="640" y="887.5" width="3" height="2"/><rect x="607" y="894" width="10" height="1.2"/><rect x="626" y="900" width="1.5" height="1.5"/><rect x="630" y="900" width="1.5" height="1.5"/><rect x="634" y="900" width="1.5" height="1.5"/><rect x="638" y="900" width="1.5" height="1.5"/><rect x="658" y="866" width="4" height="2"/><rect x="664" y="869" width="8" height="1.5"/><rect x="661" y="891" width="4" height="2"/><rect x="668" y="891" width="6" height="2"/><rect x="662" y="896" width="8" height="2"/></g>
<circle cx="679.7" cy="858.3" r="5.6" fill="#7ad6f0" stroke="#c8f0fc" stroke-width="1.4"/>
<circle cx="675.8" cy="882.2" r="3.2" fill="#d8dcf8"/>
<circle cx="680" cy="905" r="5.6" fill="#a8a4ec" stroke="#d8d8fa" stroke-width="1.4"/>
<rect x="682.5" y="873" width="18" height="18.5" rx="3" fill="#d4d4f6" stroke="#eeeefe" stroke-width="1"/>
<g stroke="#e0e0fa" stroke-width="1"><path d="M687 870.5 v2.5 M691.5 870.5 v2.5 M696 870.5 v2.5 M687 891.5 v2.5 M691.5 891.5 v2.5 M696 891.5 v2.5"/></g>
<linearGradient id="brain3" x1="0" y1="0" x2="0" y2="1"><stop offset="0" stop-color="#78d6f4"/><stop offset="0.55" stop-color="#6aa0e8"/><stop offset="1" stop-color="#8a62d8"/></linearGradient>
<g stroke="#121634" stroke-width="1.6" stroke-linejoin="round">
<path d="M118 984 Q122 991 126 990.5 Q128 986 124 979 Z" fill="#7a60d0"/>
<path d="M92 968 Q84 962 87.5 953 Q89 944.5 98 943.5 Q104 939.5 112 942 Q120 940 126 945 Q136 948 139.5 958 Q142 969 134 975 Q131 982 121 982 Q112 985 106 979 Q96 979 92 968 Z" fill="url(#brain3)"/>
</g>
<g fill="none" stroke="#121634" stroke-width="1.2" stroke-linecap="round">
<path d="M98 946 q3 4 1 9 M108 944 q-3 5 0 9 q2 4 -1 7 M117 944 q2 5 -1 10 M93 958 q4 -1 6 3 M101 964 q6 -2 12 0 q6 2 10 -1 M106 972 q6 1 10 -1 M128 966 q3 2 5 0"/>
</g>
<linearGradient id="bub3" x1="0" y1="0" x2="0" y2="1"><stop offset="0" stop-color="#8ee0f8"/><stop offset="1" stop-color="#a898ec"/></linearGradient>
<path d="M123 939.5 H151.5 A5.3 5.3 0 0 1 156.8 944.8 V956.3 A5.3 5.3 0 0 1 151.5 961.6 H131 L125.5 967 L125.5 961.6 H123 A5 5 0 0 1 118 956.6 V944.5 A5 5 0 0 1 123 939.5 Z" fill="url(#bub3)" stroke="#121634" stroke-width="1.6" stroke-linejoin="round"/>
<text x="137.4" y="954.8" text-anchor="middle" font-size="11.5" font-weight="bold" fill="#121634" textLength="28" lengthAdjust="spacingAndGlyphs">score</text>
<linearGradient id="bar15" x1="0" y1="0" x2="0" y2="1"><stop offset="0" stop-color="#6ad0f2"/><stop offset="1" stop-color="#8a72e0"/></linearGradient>
<linearGradient id="arr15" x1="0" y1="1" x2="1" y2="0"><stop offset="0" stop-color="#8a5ee0"/><stop offset="0.5" stop-color="#6a90e0"/><stop offset="1" stop-color="#6ad8f0"/></linearGradient>
<g fill="url(#bar15)" opacity="0.9"><rect x="253" y="975" width="9" height="15"/><rect x="267" y="970" width="9" height="20"/><rect x="281" y="958" width="9" height="32"/></g>
<path d="M230 980 L254 956 L264.5 966.5 L283 948 L279 943 L297 938.5 L293 957 L288.5 952.5 L264.5 976 L254 965.5 L235 984.5 Z" fill="url(#arr15)" stroke="#121634" stroke-width="1.6" stroke-linejoin="round"/>
<text x="254.5" y="953" text-anchor="middle" font-size="17" font-weight="bold" fill="#141a3a" textLength="32" lengthAdjust="spacingAndGlyphs">15%</text>
<rect x="395.6" y="940.6" width="59.2" height="46.4" rx="3" fill="#b6f07c" stroke="#d4f8a8" stroke-width="1.2"/>
<text x="425.2" y="961.8" text-anchor="middle" font-size="22" font-weight="bold" fill="#121634" textLength="45.5" lengthAdjust="spacingAndGlyphs">Bold</text>
<text x="425.2" y="981" text-anchor="middle" font-size="22" font-weight="bold" fill="#121634" textLength="43" lengthAdjust="spacingAndGlyphs">text</text>
<linearGradient id="pipeG" x1="0" y1="0" x2="0" y2="1"><stop offset="0" stop-color="#a4def6"/><stop offset="1" stop-color="#6aa6ea"/></linearGradient>
<g stroke="#141a38" stroke-width="1.6">
<rect x="525.5" y="950.3" width="42.3" height="32.6" rx="5" fill="url(#pipeG)"/>
<rect x="583.9" y="950.3" width="60.1" height="32.6" rx="5" fill="url(#pipeG)"/>
<rect x="659.2" y="950.3" width="42.3" height="32.6" rx="5" fill="url(#pipeG)"/>
<path d="M545.8 950 V942 A4.5 4.5 0 0 1 550.3 937.5 H675 A4.5 4.5 0 0 1 679.5 942 V946" fill="none"/>
<path d="M568 966.6 H578 M644 966.6 H652.5" fill="none"/>
</g>
<g fill="#141a38"><path d="M676 945 H683 L679.5 950 Z"/><path d="M577 963 L583.5 966.6 L577 970.2 Z"/><path d="M652.5 963 L659 966.6 L652.5 970.2 Z"/></g>
<g fill="#141a38" stroke="#141a38" stroke-width="0.45" text-anchor="middle">
<text x="546.6" y="971" font-size="12.5" textLength="24" lengthAdjust="spacingAndGlyphs">CLIP</text>
<text x="614" y="964.5" font-size="12.3" textLength="48" lengthAdjust="spacingAndGlyphs">Aesthetic</text>
<text x="614" y="976.5" font-size="12.3" textLength="34" lengthAdjust="spacingAndGlyphs">Model</text>
<text x="680.3" y="971" font-size="12.5" textLength="28" lengthAdjust="spacingAndGlyphs">FFNN</text>
</g>
<path d="M88.50 1155.84 A26.400000000000002 26.400000000000002 0 0 1 138.21 1143.91 L142.98 1141.37 L138.19 1155.49 L127.97 1149.35 L132.74 1146.82 A20.2 20.2 0 0 0 94.70 1155.95 Z" fill="#8cdaf2" stroke="#141634" stroke-width="1.6" stroke-linejoin="round"/>
<path d="M141.30 1156.76 A26.400000000000002 26.400000000000002 0 0 1 91.59 1168.69 L86.82 1171.23 L91.61 1157.11 L101.83 1163.25 L97.06 1165.78 A20.2 20.2 0 0 0 135.10 1156.65 Z" fill="#9a86e6" stroke="#141634" stroke-width="1.6" stroke-linejoin="round"/>
<path d="M99 1161 L106 1155 L111 1158 L118 1150 L124 1146" fill="none" stroke="#c8e8fa" stroke-width="1.6" stroke-dasharray="3 2"/><circle cx="107" cy="1154" r="2.2" fill="#a8c8f4"/>
<path d="M179.60 1154.58 A23.9 23.9 0 0 1 224.60 1143.78 L228.66 1141.62 L224.49 1154.27 L215.42 1148.66 L219.48 1146.50 A18.1 18.1 0 0 0 185.40 1154.68 Z" fill="#7ad4f0" stroke="#141634" stroke-width="1.5" stroke-linejoin="round"/>
<path d="M227.40 1155.42 A23.9 23.9 0 0 1 182.40 1166.22 L178.34 1168.38 L182.51 1155.73 L191.58 1161.34 L187.52 1163.50 A18.1 18.1 0 0 0 221.60 1155.32 Z" fill="#a088ea" stroke="#141634" stroke-width="1.5" stroke-linejoin="round"/>
<path d="M194.57 1152.25 A9.5 9.5 0 1 0 205.48 1146.21" fill="none" stroke="#141634" stroke-width="6"/>
<path d="M194.57 1152.25 A9.5 9.5 0 1 0 205.48 1146.21" fill="none" stroke="#9ab0ee" stroke-width="3.2"/>
<path d="M206.48 1139.71 L197.98 1146.21 L206.48 1152.71 Z" fill="#8ed6f2" stroke="#141634" stroke-width="1.3" stroke-linejoin="round"/>
<linearGradient id="liveG" x1="0" y1="0" x2="0" y2="1"><stop offset="0" stop-color="#7ad4f4"/><stop offset="1" stop-color="#8a64dc"/></linearGradient>
<rect x="79" y="1219.5" width="56.6" height="41.7" rx="2.5" fill="#e8e4f8" stroke="#141634" stroke-width="1.6"/>
<path d="M80.5 1259.5 V1252.5 L88 1246.5 L89.5 1247 L97.5 1239.5 L106 1247 L118.5 1233.5 L134 1233.5 V1259.5 Z" fill="url(#liveG)"/>
<path d="M83 1251.5 L88 1246.5 L89.5 1247 L97.5 1239.5 L106 1247 L118.5 1233.5" fill="none" stroke="#141634" stroke-width="1.5" stroke-linejoin="round"/>
<g stroke="#3a58b4" stroke-width="1.3"><path d="M87.5 1252 V1259 M97 1245 V1259 M106.5 1250 V1259 M116.5 1241 V1259 M126 1236 V1259"/></g>
<text x="84.5" y="1232.5" font-size="11" font-weight="bold" fill="#141634" textLength="22.5" lengthAdjust="spacingAndGlyphs">LIVE</text>
<circle cx="129.2" cy="1222" r="11.3" fill="#7ab6e8" stroke="#141634" stroke-width="1.5"/>
<circle cx="129.2" cy="1222" r="8.3" fill="#f6f8ff"/>
<path d="M128 1216.5 V1222 L132.5 1224.5" fill="none" stroke="#141634" stroke-width="1.6" stroke-linecap="round" stroke-linejoin="round"/>
<linearGradient id="retG" x1="0" y1="0" x2="0" y2="1"><stop offset="0" stop-color="#6ac4f2"/><stop offset="1" stop-color="#5a86e0"/></linearGradient>
<linearGradient id="retB" x1="0" y1="0" x2="0" y2="1"><stop offset="0" stop-color="#6a90e8"/><stop offset="1" stop-color="#7a68dc"/></linearGradient>
<linearGradient id="retA" x1="0" y1="0" x2="0" y2="1"><stop offset="0" stop-color="#6ad0f2"/><stop offset="1" stop-color="#5a7ee0"/></linearGradient>
<g stroke="#141634" stroke-width="1.6" stroke-linejoin="round">
<circle cx="201" cy="1231.5" r="10" fill="url(#retG)"/>
<path d="M182.5 1262 Q182 1244 201 1243.5 Q220 1244 221.5 1262 Z" fill="url(#retB)"/>
<path d="M203.5 1253 Q221.5 1250 223.5 1225 L217.5 1225.5 L228.5 1212 L238 1225.5 L231.5 1225 Q230.5 1257 203.5 1253 Z" fill="url(#retA)"/>
</g>
<linearGradient id="vidG" x1="0" y1="0" x2="0" y2="1"><stop offset="0" stop-color="#6a9eea"/><stop offset="1" stop-color="#8a66dc"/></linearGradient>
<rect x="283.3" y="1220" width="44.8" height="31" rx="5" fill="url(#vidG)" stroke="#141634" stroke-width="1.6"/>
<path d="M300 1229 L312 1235.5 L300 1242 Z" fill="#f4f6ff" stroke="#141634" stroke-width="1.3" stroke-linejoin="round"/>
<path d="M284 1257.2 H287.5 M293 1257.2 H310" stroke="#141634" stroke-width="1.5"/>
<circle cx="290" cy="1257.2" r="2.3" fill="none" stroke="#141634" stroke-width="1.3"/>
<circle cx="325.2" cy="1251" r="11" fill="#8a74de" stroke="#141634" stroke-width="1.6"/>
<circle cx="325.2" cy="1251" r="7.6" fill="#f4f4fc" stroke="#141634" stroke-width="1"/>
<path d="M325.2 1246 V1252" stroke="#141634" stroke-width="1.6"/>
<path d="M322 1238 h6 M325.2 1238 v2 M334 1241 l2.5 -2.5" stroke="#141634" stroke-width="1.5"/>
<linearGradient id="zG" x1="0" y1="0" x2="0" y2="1"><stop offset="0" stop-color="#6ab8f0"/><stop offset="1" stop-color="#6a74dc"/></linearGradient>
<g stroke="#141634" stroke-width="1.3" fill="url(#zG)"><rect x="393" y="1237.5" width="8" height="24.5"/><rect x="405" y="1219.6" width="8" height="42.4"/><rect x="417" y="1232.5" width="8" height="29.5"/><rect x="429" y="1241" width="8" height="21"/></g>
<path d="M387.5 1213.3 V1262 H440.4" fill="none" stroke="#141634" stroke-width="1.6"/>
<rect x="416.7" y="1214.2" width="43.7" height="13.8" rx="4" fill="#b4def8" stroke="#141634" stroke-width="1.4"/>
<text x="438.5" y="1224.5" text-anchor="middle" font-size="10" font-weight="bold" fill="#141634" textLength="36" lengthAdjust="spacingAndGlyphs">2-score</text>
<linearGradient id="warnG" x1="0" y1="0" x2="0" y2="1"><stop offset="0" stop-color="#6ad2f2"/><stop offset="1" stop-color="#8a6ce0"/></linearGradient>
<path d="M526.5 1217 Q531 1211.5 535.5 1217 L558 1255.5 Q560.5 1262 553.5 1262 H508.5 Q501.5 1262 504 1255.5 Z" fill="url(#warnG)" stroke="#141634" stroke-width="1.8" stroke-linejoin="round"/>
<text x="531" y="1252" text-anchor="middle" font-size="27" font-weight="bold" fill="#141634">?</text>
<path d="M633.50 1235.87 A24.8 24.8 0 0 1 680.20 1224.66 L684.35 1222.45 L680.29 1235.53 L671.10 1229.49 L675.25 1227.29 A19.2 19.2 0 0 0 639.10 1235.96 Z" fill="#6ac0ee" stroke="#141634" stroke-width="1.5" stroke-linejoin="round"/>
<path d="M683.10 1236.73 A24.8 24.8 0 0 1 636.40 1247.94 L632.25 1250.15 L636.31 1237.07 L645.50 1243.11 L641.35 1245.31 A19.2 19.2 0 0 0 677.50 1236.64 Z" fill="#9a86e6" stroke="#141634" stroke-width="1.5" stroke-linejoin="round"/>
<g transform="translate(658.3 1236.3) scale(0.42)"><path d="M-2 -33 A8.5 8.5 0 0 0 -17 -30 A8.5 8.5 0 0 0 -26 -19 A9 9 0 0 0 -33 -3 A9 9 0 0 0 -32 13 A9 9 0 0 0 -26 26 A9 9 0 0 0 -14 35 A8 8 0 0 0 -2 33 Z M 2.0 -33 A 8.5 8.5 0 0 1 17.0 -30 A 8.5 8.5 0 0 1 26.0 -19 A 9 9 0 0 1 33.0 -3 A 9 9 0 0 1 32.0 13 A 9 9 0 0 1 26.0 26 A 9 9 0 0 1 14.0 35 A 8 8 0 0 1 2.0 33 Z" fill="#5aa0e6" stroke="#141634" stroke-width="3"/><line x1="0" y1="-33" x2="0" y2="33" stroke="#141634" stroke-width="3"/><g fill="none" stroke="#141634" stroke-width="2.4"><path d="M-8 -24 q-4 6 2 10 M-20 -6 q6 2 8 8 M-14 16 q-4 6 2 10 M8 -24 q4 6 -2 10 M20 -6 q-6 2 -8 8 M14 16 q4 6 -2 10"/></g></g>

<!-- TEXT -->
<g>
<text class="w b" x="124.5" y="384" text-anchor="middle" font-size="13.82" textLength="103.0" lengthAdjust="spacingAndGlyphs">YouTube Data API</text>
<text class="w" x="124.5" y="398.5" text-anchor="middle" font-size="13.82" textLength="93.9" lengthAdjust="spacingAndGlyphs">pulls video titles,</text>
<text class="w" x="124.5" y="412.5" text-anchor="middle" font-size="13.82" textLength="106.1" lengthAdjust="spacingAndGlyphs">descriptions, view</text>
<text class="w" x="124.5" y="427" text-anchor="middle" font-size="13.82" textLength="71.1" lengthAdjust="spacingAndGlyphs">counts, CTR</text>
<text class="w b" x="253" y="384.5" text-anchor="middle" font-size="13.82" textLength="105.1" lengthAdjust="spacingAndGlyphs">Image processing</text>
<text class="w" x="251" y="398.5" text-anchor="middle" font-size="13.82" textLength="115.4" lengthAdjust="spacingAndGlyphs">analyzes brightness,</text>
<text class="w" x="251" y="412.5" text-anchor="middle" font-size="13.82" textLength="108.9" lengthAdjust="spacingAndGlyphs">saturation, contrast</text>
<text class="w" x="386" y="384" text-anchor="middle" font-size="14.34" textLength="123.6" lengthAdjust="spacingAndGlyphs"><tspan class="b">CLIP model</tspan> evaluates</text>
<text class="w" x="386" y="398.5" text-anchor="middle" font-size="13.82" textLength="71.8" lengthAdjust="spacingAndGlyphs">frame-to-title</text>
<text class="w" x="386" y="412.5" text-anchor="middle" font-size="13.82" textLength="49.8" lengthAdjust="spacingAndGlyphs">similarity</text>
<text class="w b" x="519" y="384" text-anchor="middle" font-size="13.82" textLength="104.6" lengthAdjust="spacingAndGlyphs">Facial recognition</text>
<text class="w" x="519" y="398.5" text-anchor="middle" font-size="13.82" textLength="93.2" lengthAdjust="spacingAndGlyphs">identifies human</text>
<text class="w" x="519" y="412.5" text-anchor="middle" font-size="13.82" textLength="51.9" lengthAdjust="spacingAndGlyphs">elements</text>
<text class="w b" x="649.5" y="384" text-anchor="middle" font-size="13.82" textLength="115.4" lengthAdjust="spacingAndGlyphs">Compositional data</text>
<text class="w" x="651" y="398.5" text-anchor="middle" font-size="13.82" textLength="56.2" lengthAdjust="spacingAndGlyphs">organized</text>
<text class="w" x="652" y="412.5" text-anchor="middle" font-size="13.82" textLength="94.6" lengthAdjust="spacingAndGlyphs">(text length, logo</text>
<text class="w" x="652" y="427" text-anchor="middle" font-size="13.82" textLength="106.1" lengthAdjust="spacingAndGlyphs">placement, arrows)</text>
<text class="w b" x="384" y="496.5" text-anchor="middle" font-size="13.82" textLength="90.6" lengthAdjust="spacingAndGlyphs">Processing Hub</text>
<text class="d m" x="121" y="731" text-anchor="middle" font-size="15.12" textLength="102.0" lengthAdjust="spacingAndGlyphs">t-SNE clustering</text>
<text class="d m" x="121" y="746" text-anchor="middle" font-size="15.12" textLength="93.0" lengthAdjust="spacingAndGlyphs">groups similar</text>
<text class="d m" x="121" y="761" text-anchor="middle" font-size="15.12" textLength="72.0" lengthAdjust="spacingAndGlyphs">thumbnails</text>
<text class="d m" x="264" y="731" text-anchor="middle" font-size="15.12" textLength="139.1" lengthAdjust="spacingAndGlyphs">DNNs classify designs</text>
<text class="d m" x="264" y="746" text-anchor="middle" font-size="15.12" textLength="120.8" lengthAdjust="spacingAndGlyphs">as high/low quality</text>
<text class="d" x="264.5" y="759.5" text-anchor="middle" font-size="14.34" textLength="141.1" lengthAdjust="spacingAndGlyphs">(65% accuracy vs human</text>
<text class="d" x="264.5" y="773" text-anchor="middle" font-size="14.34" textLength="65.5" lengthAdjust="spacingAndGlyphs">preference)</text>
<text class="d m" x="423.5" y="731" text-anchor="middle" font-size="15.12" textLength="95.4" lengthAdjust="spacingAndGlyphs">Trend tracking:</text>
<text class="d m" x="423.5" y="746" text-anchor="middle" font-size="15.12" textLength="128.8" lengthAdjust="spacingAndGlyphs">Word count dropped</text>
<text class="d" x="424" y="760" text-anchor="middle" font-size="14.34" textLength="129.8" lengthAdjust="spacingAndGlyphs"><tspan class="b">40%</tspan> (5.8 → 3.4 words,</text>
<text class="d" x="424" y="773.5" text-anchor="middle" font-size="14.34" textLength="65.5" lengthAdjust="spacingAndGlyphs">2020-2025)</text>
<text class="d m" x="547.5" y="731" text-anchor="middle" font-size="15.12" textLength="65.3" lengthAdjust="spacingAndGlyphs">Face sizes</text>
<text class="d m" x="547.5" y="746" text-anchor="middle" font-size="15.12" textLength="62.3" lengthAdjust="spacingAndGlyphs">grew 35%</text>
<text class="d m" x="658.5" y="731" text-anchor="middle" font-size="15.12" textLength="100.2" lengthAdjust="spacingAndGlyphs">Color saturation</text>
<text class="d m" x="658.5" y="746" text-anchor="middle" font-size="15.12" textLength="93.8" lengthAdjust="spacingAndGlyphs">increased 28%</text>
<text class="d m" x="121.5" y="1009" text-anchor="middle" font-size="15.12" textLength="67.5" lengthAdjust="spacingAndGlyphs">AI assigns</text>
<text class="d m" x="121.5" y="1024.5" text-anchor="middle" font-size="15.12" textLength="95.3" lengthAdjust="spacingAndGlyphs">predictive CTR</text>
<text class="d m" x="121.5" y="1040" text-anchor="middle" font-size="15.12" textLength="43.5" lengthAdjust="spacingAndGlyphs">scores</text>
<text class="d m" x="267" y="1009" text-anchor="middle" font-size="15.12" textLength="105.1" lengthAdjust="spacingAndGlyphs">High-performing</text>
<text class="d m" x="267" y="1024.5" text-anchor="middle" font-size="15.12" textLength="127.7" lengthAdjust="spacingAndGlyphs">thumbnails increase</text>
<text class="d m" x="267" y="1040" text-anchor="middle" font-size="15.12" textLength="122.3" lengthAdjust="spacingAndGlyphs">CTR by up to 154%</text>
<text class="d m" x="425" y="1009" text-anchor="middle" font-size="15.12" textLength="98.5" lengthAdjust="spacingAndGlyphs">Bold text + high</text>
<text class="d m" x="425" y="1024.5" text-anchor="middle" font-size="15.12" textLength="95.7" lengthAdjust="spacingAndGlyphs">contrast = 23%</text>
<text class="d m" x="425" y="1040" text-anchor="middle" font-size="15.12" textLength="123.0" lengthAdjust="spacingAndGlyphs">better performance</text>
<text class="d m" x="613.5" y="1009" text-anchor="middle" font-size="15.12" textLength="140.3" lengthAdjust="spacingAndGlyphs">Three-model pipeline:</text>
<text class="d m" x="613.5" y="1024.5" text-anchor="middle" font-size="15.12" textLength="159.6" lengthAdjust="spacingAndGlyphs">CLIP + aesthetic model +</text>
<text class="d m" x="613.5" y="1040" text-anchor="middle" font-size="15.12" textLength="188.5" lengthAdjust="spacingAndGlyphs">Feed-Forward Neural Network</text>
<text class="d m" x="107" y="1283" text-anchor="middle" font-size="15.12" textLength="59.7" lengthAdjust="spacingAndGlyphs">Real-time</text>
<text class="d m" x="107" y="1297.5" text-anchor="middle" font-size="15.12" textLength="79.7" lengthAdjust="spacingAndGlyphs">CTR tracking</text>
<text class="d m" x="206.6" y="1283" text-anchor="middle" font-size="15.12" textLength="62.2" lengthAdjust="spacingAndGlyphs">Retention</text>
<text class="d m" x="206.6" y="1297.5" text-anchor="middle" font-size="15.12" textLength="78.3" lengthAdjust="spacingAndGlyphs">rate analysis</text>
<text class="d m" x="308" y="1283" text-anchor="middle" font-size="15.12" textLength="71.5" lengthAdjust="spacingAndGlyphs">Watch time</text>
<text class="d m" x="308" y="1297.5" text-anchor="middle" font-size="15.12" textLength="85.5" lengthAdjust="spacingAndGlyphs">measurement</text>
<text class="d m" x="413.5" y="1283" text-anchor="middle" font-size="15.12" textLength="95.8" lengthAdjust="spacingAndGlyphs">Z-scored views</text>
<text class="d m" x="413.5" y="1297.5" text-anchor="middle" font-size="15.12" textLength="76.5" lengthAdjust="spacingAndGlyphs">comparison</text>
<text class="d m" x="531" y="1283" text-anchor="middle" font-size="15.12" textLength="117.4" lengthAdjust="spacingAndGlyphs">AI flags misleading</text>
<text class="d m" x="531" y="1297.5" text-anchor="middle" font-size="14.56" textLength="104.7" lengthAdjust="spacingAndGlyphs">thumbnails (high</text>
<text class="d" x="531" y="1312" text-anchor="middle" font-size="14.56" textLength="125.7" lengthAdjust="spacingAndGlyphs">CTR + early drop-offs)</text>
<text class="d m" x="659" y="1283" text-anchor="middle" font-size="15.12" textLength="124.1" lengthAdjust="spacingAndGlyphs">Continuous learning</text>
<text class="d m" x="659" y="1297.5" text-anchor="middle" font-size="15.12" textLength="92.2" lengthAdjust="spacingAndGlyphs">loop for future</text>
<text class="d m" x="659" y="1312" text-anchor="middle" font-size="15.12" textLength="92.3" lengthAdjust="spacingAndGlyphs">improvements</text>
</g>

</svg>
</body></html>
